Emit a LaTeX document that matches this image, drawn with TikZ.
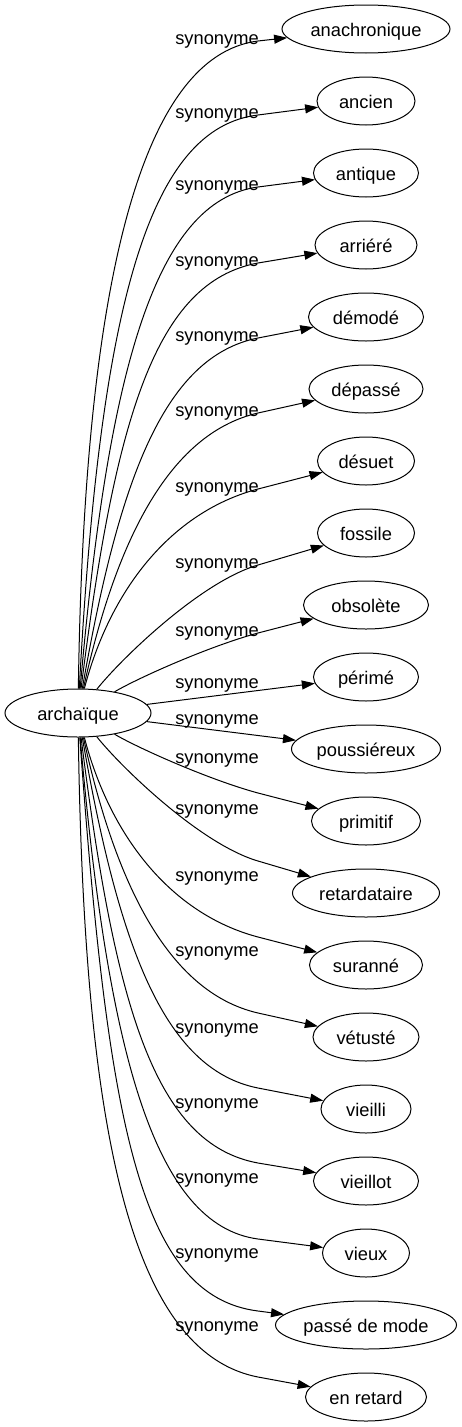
\documentclass[tikz,border=0pt]{standalone}
\usepackage{fontspec}
\setmainfont{Liberation Sans}
\usetikzlibrary{shapes.geometric,arrows.meta}
\begin{document}
\begin{tikzpicture}[x=1pt,y=-1pt,
  font=\fontsize{18.3}{22}\selectfont,
  wnode/.style={draw, ellipse, line width=1pt, inner sep=0pt, minimum height=48pt, text height=15pt, text depth=0pt},
  lab/.style={anchor=base, inner sep=0pt},
  edge/.style={draw, line width=1pt, -{Triangle[length=13pt,width=9pt]}}]
\useasboundingbox (0,0) rectangle (462,1427);
\node[wnode, minimum width=146pt] (c) at (78,713) {archaïque};
\foreach \i/\w/\txt in {0/168/anachronique, 1/98/ancien, 2/105/antique, 3/102/arriéré,
  4/115/démodé, 5/114/dépassé, 6/97/désuet, 7/97/fossile, 8/125/obsolète, 9/105/périmé,
  10/149/poussiéreux, 11/109/primitif, 12/147/retardataire, 13/113/suranné, 14/106/vétusté,
  15/90/vieilli, 16/105/vieillot, 17/87/vieux, 18/181/passé de mode, 19/121/en retard}
  {\node[wnode, minimum width=\w pt] (t\i) at (366,29+72*\i) {\txt};}
% curved connectors: control 1, control 2, via point under the label
\foreach \i/\ax/\ay/\bx/\by/\mx/\my in {
  0/84/290/139/56/258/41,
  1/100/300/150/128/258/115,
  2/108/370/155/201/258/187,
  3/115/418/155/282/258/263,
  4/118/485/162/357/258/338,
  5/115/545/167/434/258/413,
  6/110/590/171/512/258/489,
  7/120/660/200/582/258/565,
  8/140/677/210/646/258/633,
  11/140/749/210/780/258/793,
  12/120/766/200/844/258/861,
  13/110/836/171/914/258/937,
  14/115/881/167/992/258/1013,
  15/118/941/162/1069/258/1088,
  16/115/1008/155/1144/258/1163,
  17/108/1056/155/1225/258/1239,
  18/108/1126/140/1296/258/1311,
  19/84/1130/130/1352/258/1377}
  {\coordinate (m\i) at (\mx,\my);
   \draw[edge] (c) .. controls (\ax,\ay) and (\bx,\by) .. (m\i) -- (t\i);}
\draw[edge] (c) -- (t9);
\draw[edge] (c) -- (t10);
\foreach \i/\ly in {0/38, 1/112, 2/184, 3/260, 4/335, 5/410, 6/486, 7/562, 8/630, 9/682,
  10/718, 11/757, 12/808, 13/875, 14/950, 15/1027, 16/1102, 17/1177, 18/1252, 19/1325}
  {\node[lab] (l\i) at (217,\ly+6) {synonyme};}
\end{tikzpicture}
\end{document}
